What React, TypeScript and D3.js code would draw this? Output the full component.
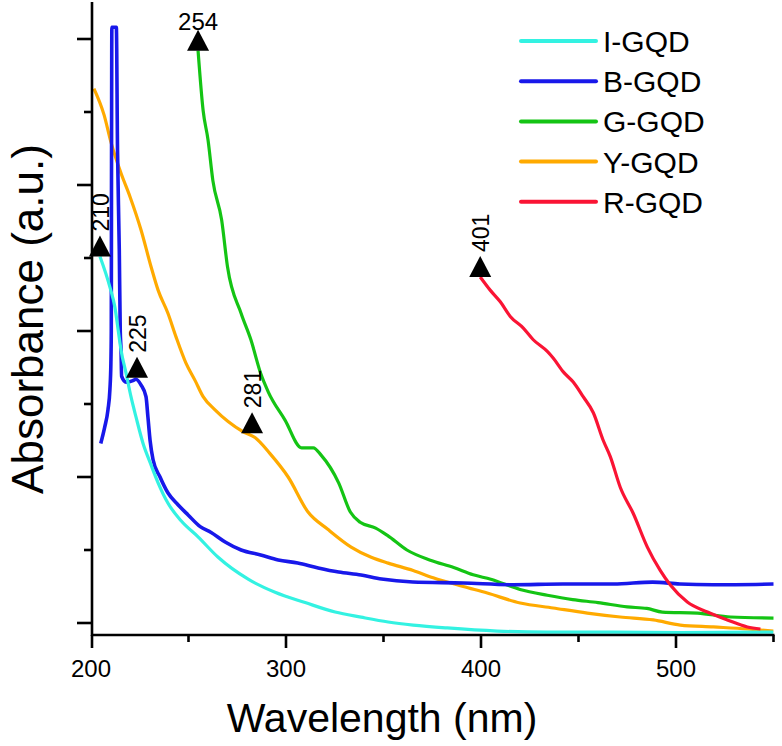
import React, { useEffect, useRef } from "react";
import * as d3 from "d3";

const seriesNames = ["I-GQD", "B-GQD", "G-GQD", "Y-GQD", "R-GQD"];
const seriesColors = ["#33f2e2", "#1818ea", "#14c414", "#ffaa00", "#fa1434"];

// [wavelength (nm), absorbance (a.u.)]
const iGqd = [
  [204.6, 2.51], [209.7, 2.3], [212.3, 2.16], [213.9, 2.01], [215.4, 1.87], [218, 1.71],
  [220.5, 1.55], [223.1, 1.41], [226.7, 1.23], [230.3, 1.1], [234.4, 0.96], [239.5, 0.82],
  [246.2, 0.7], [254.9, 0.59], [265.2, 0.45], [280.6, 0.3], [294.4, 0.21], [309.8, 0.14],
  [325.2, 0.075], [338.5, 0.04], [352.4, 0.007], [365.2, -0.014], [382.7, -0.034],
  [408.3, -0.055], [434, -0.062], [467.8, -0.062], [502.2, -0.066], [549.9, -0.062],
];

const bGqd = [
  [205, 1.23], [207, 1.34], [208.7, 1.46], [209.7, 1.6], [210.2, 1.78], [210.4, 2.0],
  [210.5, 2.9], [210.7, 4.08], [213.0, 4.08], [213.6, 3.24], [214.5, 2.56], [215.0, 2.0],
  [215.4, 1.87], [215.7, 1.69], [218, 1.65], [221.5, 1.66], [223, 1.67], [225.7, 1.63],
  [228.2, 1.55], [229.2, 1.41], [230.3, 1.25], [231.8, 1.12], [235.4, 1.0], [239.5, 0.89],
  [244.6, 0.81], [249.8, 0.74], [256, 0.66], [261.6, 0.62], [268.8, 0.555], [277, 0.5],
  [287, 0.466], [296, 0.432], [306, 0.411], [316.5, 0.377], [327, 0.349], [338.5, 0.329],
  [349, 0.301], [365, 0.281], [391, 0.274], [416.5, 0.262], [442, 0.267], [468, 0.267],
  [488, 0.28], [502, 0.267], [519, 0.262], [550, 0.267],
];

const gGqd = [
  [254.9, 3.92], [257.5, 3.51], [260, 3.31], [262.5, 3.03], [267, 2.76], [270, 2.44],
  [277, 2.12], [282, 1.94], [287, 1.71], [291, 1.58], [299.5, 1.39], [308, 1.2], [314, 1.2],
  [318, 1.15], [327, 0.96], [333, 0.76], [338, 0.69], [346, 0.65], [352, 0.6], [362, 0.5],
  [374, 0.43], [386, 0.38], [396, 0.33], [405, 0.3], [420, 0.23], [434, 0.19], [447, 0.16],
  [460, 0.14], [475, 0.11], [485, 0.1], [493, 0.075], [511, 0.068], [528, 0.041], [550, 0.034],
];

const yGqd = [
  [201.5, 3.66], [206.7, 3.48], [210.3, 3.29], [215.4, 3.08], [220, 2.92], [225.7, 2.69],
  [230.8, 2.44], [234.4, 2.28], [239.5, 2.12], [243.6, 1.96], [248.7, 1.78], [253.4, 1.66],
  [257.5, 1.55], [263.6, 1.46], [270.3, 1.38], [278, 1.31], [284.1, 1.27], [291.8, 1.16],
  [301.1, 1.0], [311.3, 0.76], [321.6, 0.64], [333.4, 0.52], [343.7, 0.45], [352.4, 0.41],
  [365.2, 0.36], [375.5, 0.31], [390.9, 0.25], [403.2, 0.205], [420.1, 0.137], [437, 0.103],
  [454.5, 0.068], [471.4, 0.041], [488.4, 0.021], [502.2, -0.014], [519.1, -0.027],
  [536.6, -0.041], [549.9, -0.055],
];

const rGqd = [
  [399.6, 2.37], [404.7, 2.28], [409.9, 2.2], [415, 2.1], [421.7, 2.02], [426.8, 1.94],
  [434, 1.86], [437, 1.815], [442.2, 1.72], [447.3, 1.65], [452.4, 1.55], [457.6, 1.44],
  [462.7, 1.25], [466.3, 1.14], [471.4, 0.93], [478.1, 0.75], [485.3, 0.52], [491.9, 0.36],
  [497.1, 0.26], [505.8, 0.144], [516.1, 0.075], [526.3, 0.021], [536.6, -0.027], [543.3, -0.041],
];

const seriesData = [iGqd, bGqd, gGqd, yGqd, rGqd];
const drawOrder = [3, 2, 1, 0, 4];

const peakLabels = ["210", "225", "254", "281", "401"];
const peakPoints = [[204.6, 2.51], [223.6, 1.68], [254.9, 3.92], [282.6, 1.3], [399.6, 2.37]];
const peakRotated = [true, true, false, true, true];

const xMajorTicks = [200, 300, 400, 500];
const xMinorTicks = [250, 350, 450, 550];
const yMajorTicks = [0, 1, 2, 3, 4];
const yMinorTicks = [0.5, 1.5, 2.5, 3.5];

const W = 782;
const H = 746;
const FONT = "'Liberation Sans', Arial, Helvetica, sans-serif";

export default function App() {
  const ref = useRef<SVGSVGElement>(null);

  useEffect(() => {
    const svg = d3.select(ref.current);
    svg.selectAll("*").remove();

    const x = d3.scaleLinear().domain([200, 550]).range([91, 773.5]);
    const y = d3.scaleLinear().domain([0, 4]).range([623, 39]);
    const x0 = 92;
    const yBottom = 635;

    // curves
    const line = d3
      .line<number[]>()
      .x((d) => x(d[0]))
      .y((d) => y(d[1]))
      .curve(d3.curveMonotoneX);

    drawOrder.forEach((i) => {
      svg
        .append("path")
        .datum(seriesData[i])
        .attr("d", line)
        .attr("fill", "none")
        .attr("stroke", seriesColors[i])
        .attr("stroke-width", i === 1 ? 3.6 : 3.2)
        .attr("stroke-linejoin", "round");
    });

    // axes
    const axes = svg.append("g").attr("stroke", "#000").attr("stroke-width", 2.6);
    axes.append("line").attr("x1", x0).attr("x2", x0).attr("y1", 2).attr("y2", yBottom + 1);
    axes.append("line").attr("x1", x0 - 1).attr("x2", x(550) + 1).attr("y1", yBottom).attr("y2", yBottom);

    axes.selectAll(".ymaj").data(yMajorTicks).enter().append("line")
      .attr("x1", x0 - 15).attr("x2", x0).attr("y1", (d) => y(d)).attr("y2", (d) => y(d));
    axes.selectAll(".ymin").data(yMinorTicks).enter().append("line")
      .attr("x1", x0 - 8).attr("x2", x0).attr("y1", (d) => y(d)).attr("y2", (d) => y(d));
    axes.selectAll(".xmaj").data(xMajorTicks).enter().append("line")
      .attr("x1", (d) => Math.max(x(d), x0)).attr("x2", (d) => Math.max(x(d), x0))
      .attr("y1", yBottom).attr("y2", yBottom + 13);
    axes.selectAll(".xmin").data(xMinorTicks).enter().append("line")
      .attr("x1", (d) => x(d)).attr("x2", (d) => x(d))
      .attr("y1", yBottom).attr("y2", yBottom + 7);

    svg.selectAll("text.xlab").data(xMajorTicks).enter().append("text")
      .attr("x", (d) => x(d)).attr("y", 677)
      .attr("text-anchor", "middle")
      .attr("font-family", FONT).attr("font-size", 24)
      .text((d) => d);

    svg.append("text")
      .attr("x", 382).attr("y", 732)
      .attr("text-anchor", "middle")
      .attr("font-family", FONT).attr("font-size", 41)
      .text("Wavelength (nm)");

    svg.append("text")
      .attr("transform", "translate(43,319) rotate(-90)")
      .attr("text-anchor", "middle")
      .attr("font-family", FONT).attr("font-size", 44)
      .text("Absorbance (a.u.)");

    // peak markers
    const peaks = svg.append("g");
    peakPoints.forEach((p, i) => {
      const px = x(p[0]);
      const py = y(p[1]);
      peaks.append("path")
        .attr("d", `M${px - 11},${py} L${px + 11},${py} L${px},${py - 21} Z`)
        .attr("fill", "#000");
      if (peakRotated[i]) {
        peaks.append("text")
          .attr("transform", `translate(${px + 9},${py - 25}) rotate(-90)`)
          .attr("font-family", FONT).attr("font-size", 23)
          .text(peakLabels[i]);
      } else {
        peaks.append("text")
          .attr("x", px).attr("y", py - 21)
          .attr("text-anchor", "middle")
          .attr("font-family", FONT).attr("font-size", 24)
          .text(peakLabels[i]);
      }
    });

    // legend
    const legend = svg.append("g");
    seriesNames.forEach((name, i) => {
      const ly = 41 + i * 40.2;
      legend.append("line")
        .attr("x1", 521).attr("x2", 596).attr("y1", ly).attr("y2", ly)
        .attr("stroke", seriesColors[i]).attr("stroke-width", 4)
        .attr("stroke-linecap", "round");
      legend.append("text")
        .attr("x", 603).attr("y", ly + 11)
        .attr("font-family", FONT).attr("font-size", 30)
        .text(name);
    });
  }, []);

  return (
    <svg
      ref={ref}
      width={W}
      height={H}
      style={{ position: "absolute", left: 0, top: 0, background: "#fff" }}
    />
  );
}
